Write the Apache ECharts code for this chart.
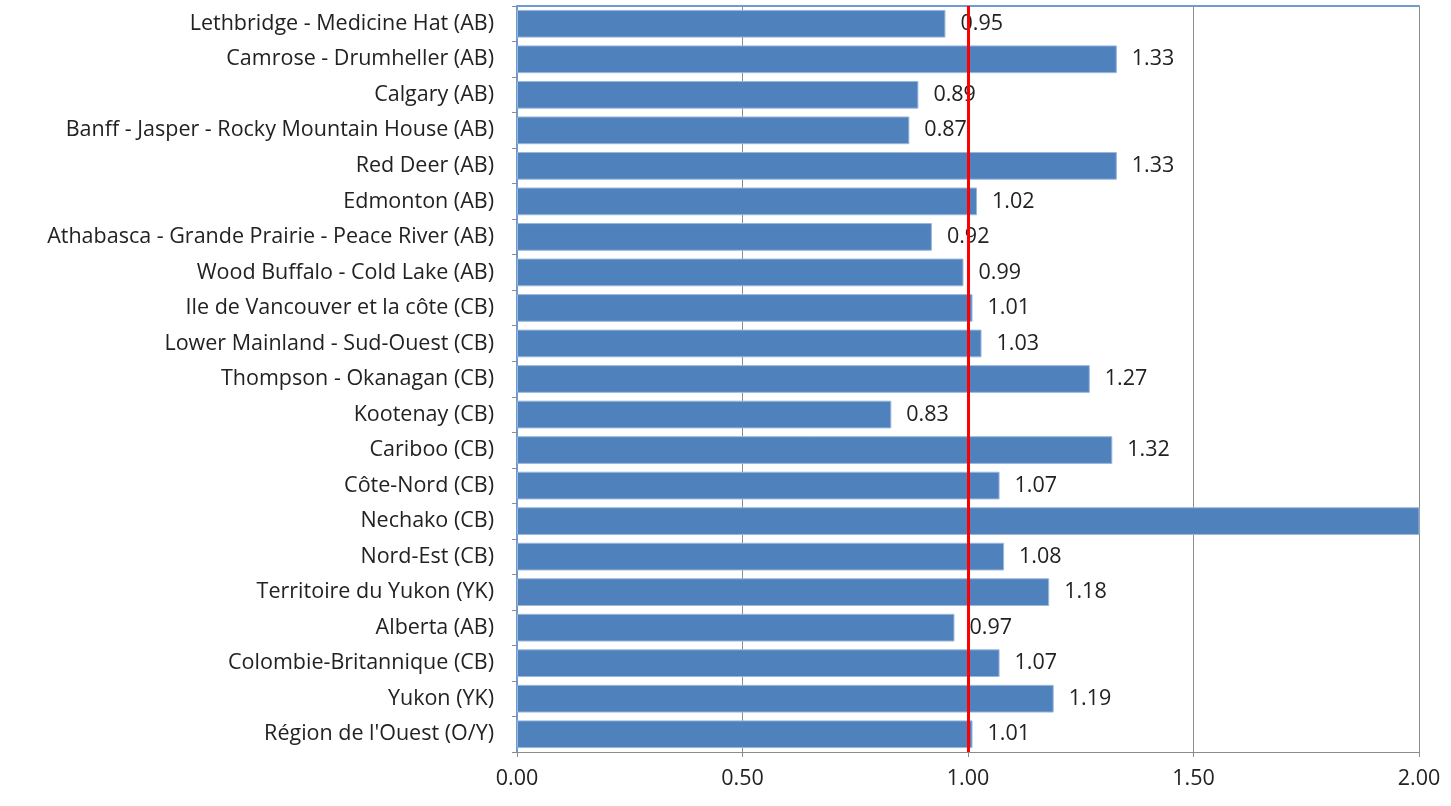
<!DOCTYPE html>
<html>
<head>
<meta charset="utf-8">
<script src="https://cdn.jsdelivr.net/npm/echarts@6/dist/echarts.min.js"></script>
<style>
  html, body { margin: 0; padding: 0; background: #fff; }
  #main { width: 1451px; height: 806px; }
</style>
</head>
<body>
<div id="main"></div>
<script>
// régions, de haut en bas
const regions = [
    'Lethbridge - Medicine Hat (AB)',
    'Camrose - Drumheller (AB)',
    'Calgary (AB)',
    'Banff - Jasper - Rocky Mountain House (AB)',
    'Red Deer (AB)',
    'Edmonton (AB)',
    'Athabasca - Grande Prairie - Peace River (AB)',
    'Wood Buffalo - Cold Lake (AB)',
    'Ile de Vancouver et la côte (CB)',
    'Lower Mainland - Sud-Ouest (CB)',
    'Thompson - Okanagan (CB)',
    'Kootenay (CB)',
    'Cariboo (CB)',
    'Côte-Nord (CB)',
    'Nechako (CB)',
    'Nord-Est (CB)',
    'Territoire du Yukon (YK)',
    'Alberta (AB)',
    'Colombie-Britannique (CB)',
    'Yukon (YK)',
    "Région de l'Ouest (O/Y)"
];
// Nechako dépasse l'axe (valeur estimée, hors échelle)
const ratios = [0.95, 1.33, 0.89, 0.87, 1.33, 1.02, 0.92, 0.99, 1.01, 1.03,
    1.27, 0.83, 1.32, 1.07, 2.5, 1.08, 1.18, 0.97, 1.07, 1.19, 1.01];
const xTicks = [0, 0.5, 1, 1.5, 2];
const refLine = 1.0;

const font = 'Open Sans';
const fontSize = 21.5;
const axisMax = xTicks[xTicks.length - 1];

let seriesData = ratios.map(v => v > axisMax
    ? {value: v, label: {show: false}}
    : v);

let option = {
    animation: false,
    grid: {left: 517, right: 32, top: 6, bottom: 54},
    xAxis: [{
        type: 'value', min: xTicks[0], max: axisMax, interval: 0.5,
        axisLine: {show: true, lineStyle: {color: '#8c8c8c'}},
        axisTick: {show: true, length: 5, lineStyle: {color: '#8c8c8c'}},
        axisLabel: {
            margin: 16, color: '#222', fontFamily: font, fontSize: fontSize,
            formatter: v => v.toFixed(2)
        },
        splitLine: {show: true, lineStyle: {color: '#8c8c8c', width: 1}}
    }, {
        // bordure du haut
        type: 'value', position: 'top', min: xTicks[0], max: axisMax,
        axisLine: {show: true, lineStyle: {color: '#6f9bd5', width: 2}},
        axisTick: {show: false}, axisLabel: {show: false}, splitLine: {show: false}
    }],
    yAxis: [{
        type: 'category', data: regions, inverse: true,
        axisLine: {show: true, lineStyle: {color: '#8c8c8c'}},
        axisTick: {show: true, length: 5, alignWithLabel: false, lineStyle: {color: '#8c8c8c'}},
        axisLabel: {margin: 23, color: '#222', fontFamily: font, fontSize: fontSize}
    }, {
        // bordure de droite
        type: 'category', data: regions, inverse: true, position: 'right',
        axisLine: {show: true, lineStyle: {color: '#6f9bd5', width: 2}},
        axisTick: {show: false}, axisLabel: {show: false}
    }],
    series: [{
        type: 'bar', data: seriesData, barCategoryGap: '22%',
        itemStyle: {color: '#4f81bd', borderColor: '#9bb7dc', borderWidth: 1},
        label: {
            show: true, position: 'right', distance: 15,
            color: '#222', fontFamily: font, fontSize: fontSize,
            formatter: p => p.value.toFixed(2)
        },
        markLine: {
            symbol: 'none', silent: true, z: 10,
            label: {show: false},
            emphasis: {disabled: true},
            lineStyle: {color: '#ff0000', width: 3, type: 'solid', opacity: 1},
            data: [{xAxis: refLine}]
        }
    }]
};

let myChart = echarts.init(document.getElementById('main'));
myChart.setOption(option);
</script>
</body>
</html>
